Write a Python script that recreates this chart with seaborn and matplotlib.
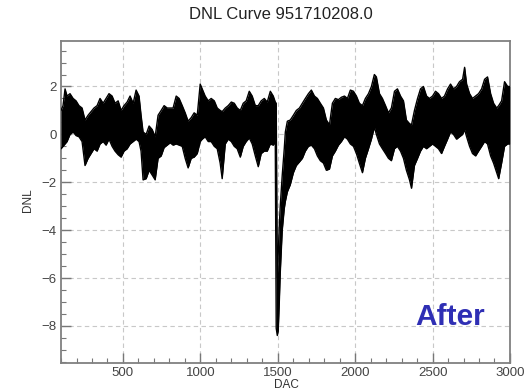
import numpy as np
import pandas as pd
import seaborn as sns
import matplotlib
matplotlib.use('Agg')
import matplotlib.pyplot as plt
from matplotlib.ticker import MultipleLocator

# Envelope of the DNL band: DAC code, upper and lower DNL
dac = [100, 113, 126, 139, 158, 178, 197, 216, 236, 255, 275, 294, 313, 333, 352,
       372, 391, 410, 430, 449, 469, 488, 507, 527, 546, 566, 585, 604, 617, 630,
       650, 669, 689, 708, 727, 747, 766, 786, 805, 824, 844, 863, 883, 902, 921,
       941, 960, 980, 999, 1012, 1031, 1051, 1070, 1090, 1109, 1128, 1141, 1161, 1180, 1200,
       1219, 1238, 1258, 1277, 1296, 1316, 1335, 1355, 1374, 1393, 1413, 1432, 1452, 1471, 1484,
       1490, 1497, 1503, 1510, 1516, 1523, 1529, 1536, 1542, 1549, 1562, 1581, 1601, 1620, 1640,
       1659, 1678, 1698, 1717, 1737, 1756, 1775, 1795, 1814, 1834, 1853, 1872, 1892, 1911, 1931,
       1950, 1969, 1989, 2008, 2027, 2047, 2066, 2086, 2105, 2124, 2137, 2157, 2176, 2196, 2215,
       2234, 2254, 2273, 2293, 2312, 2331, 2351, 2364, 2383, 2403, 2422, 2441, 2461, 2480, 2500,
       2519, 2538, 2558, 2577, 2597, 2616, 2635, 2655, 2674, 2694, 2707, 2720, 2739, 2758, 2778,
       2797, 2817, 2836, 2855, 2875, 2894, 2914, 2927, 2946, 2965, 2985, 2998]
dnl_hi = [1.0, 1.2, 1.9, 1.6, 1.7, 1.5, 1.4, 1.2, 1.1, 0.6, 0.8, 0.95, 1.1, 1.2, 1.5,
          1.3, 1.5, 1.7, 1.6, 1.3, 1.4, 1.0, 1.2, 1.35, 1.6, 1.3, 1.85, 1.6, 0.8, 0.1,
          0.0, 0.35, 0.2, -0.1, 0.8, 1.0, 1.2, 1.1, 1.1, 1.1, 1.6, 1.5, 1.2, 0.9, 0.55,
          0.7, 0.9, 0.8, 2.1, 1.9, 1.6, 1.4, 1.5, 1.4, 1.1, 1.0, 0.95, 1.1, 1.2, 1.35,
          1.3, 1.1, 1.0, 1.3, 1.4, 1.8, 1.6, 1.2, 1.2, 1.4, 1.5, 1.35, 1.8, 1.6, 1.35,
          1.3, -6.0, -5.0, -3.8, -3.0, -2.3, -1.7, -1.1, -0.6, 0.1, 0.55, 0.6, 0.8, 1.0, 1.1,
          1.3, 1.5, 1.7, 1.85, 1.6, 1.5, 1.3, 1.1, 0.6, 0.4, 1.3, 1.5, 1.45, 1.55, 1.6,
          1.5, 1.85, 1.8, 1.6, 1.3, 1.2, 1.5, 1.7, 2.0, 2.5, 2.4, 1.7, 1.5, 1.2, 0.9,
          1.1, 1.8, 1.9, 1.6, 1.4, 0.6, 0.45, 0.4, 1.0, 1.5, 1.9, 2.0, 1.6, 1.5, 1.6,
          1.8, 1.7, 1.5, 1.6, 1.9, 2.1, 1.9, 2.0, 2.2, 2.3, 2.8, 2.1, 1.7, 1.5, 1.6,
          1.7, 1.9, 2.3, 2.4, 1.7, 1.3, 1.1, 1.2, 1.4, 2.2, 2.0, 2.0]
dnl_lo = [-0.6, -0.5, -0.4, -0.3, 0.0, 0.1, -0.05, -0.1, -0.3, -1.3, -1.0, -0.8, -0.6, -0.7, -0.4,
          -0.3, -0.45, -0.2, -0.5, -0.7, -0.85, -0.95, -0.7, -0.6, -0.4, -0.3, -0.2, -0.3, -0.7, -1.9,
          -1.85, -1.5, -1.7, -1.9, -1.0, -0.9, -0.55, -0.45, -0.35, -0.45, -0.4, -0.45, -0.5, -1.0, -1.4,
          -1.0, -0.95, -0.8, -0.3, -0.2, -0.1, -0.3, -0.3, -0.5, -0.6, -1.2, -1.85, -0.4, -0.2, -0.3,
          -0.5, -0.6, -0.95, -0.5, -0.3, -0.15, -0.4, -0.9, -1.35, -0.8, -0.7, -0.7, -0.4, -0.45, -0.3,
          -8.1, -8.4, -8.2, -7.0, -5.8, -4.8, -4.0, -3.5, -3.1, -2.8, -2.4, -2.1, -1.6, -1.3, -1.15,
          -1.0, -0.7, -0.5, -0.45, -0.6, -0.9, -1.1, -1.2, -1.5, -1.45, -0.9, -0.7, -0.45, -0.3, -0.1,
          -0.2, -0.4, -0.5, -0.8, -1.2, -1.6, -1.0, -0.6, -0.2, 0.3, 0.0, -0.4, -0.6, -0.8, -1.0,
          -1.1, -0.6, -0.5, -0.7, -1.0, -1.5, -1.9, -2.25, -1.3, -1.0, -0.7, -0.5, -0.6, -0.5, -0.4,
          -0.5, -0.6, -0.8, -0.5, -0.2, 0.1, 0.0, -0.2, -0.1, 0.0, 0.2, -0.1, -0.5, -0.8, -0.9,
          -0.7, -0.5, -0.3, -0.4, -0.9, -1.2, -1.6, -1.85, -1.2, -0.5, -0.4, -0.4]

sns.set_style('white')
plt.rcParams['font.family'] = ['Liberation Sans', 'DejaVu Sans']

fig = plt.figure(figsize=(5.32, 3.92), dpi=100)
ax = fig.add_axes([0.1147, 0.074, 0.8439, 0.8214])

df = pd.DataFrame({'DAC': dac, 'hi': dnl_hi, 'lo': dnl_lo})
ax.fill_between(df['DAC'], df['lo'], df['hi'], color='black', lw=0, zorder=3)
edges = df.melt(id_vars='DAC', value_vars=['hi', 'lo'], var_name='edge', value_name='DNL')
sns.lineplot(data=edges, x='DAC', y='DNL', units='edge', estimator=None,
             color='black', lw=1.0, ax=ax, zorder=3)

# ROOT-like axes: inward ticks on bottom/left only, dashed major grid
ax.set_xlim(100, 3000)
ax.set_ylim(-9.55, 3.9)
ax.xaxis.set_major_locator(MultipleLocator(500))
ax.xaxis.set_minor_locator(MultipleLocator(100))
ax.yaxis.set_major_locator(MultipleLocator(2))
ax.yaxis.set_minor_locator(MultipleLocator(0.5))
ax.tick_params(which='both', direction='in', bottom=True, left=True, top=False, right=False,
               colors='#777777', labelcolor='#444444', labelsize=9.5, pad=3)
ax.tick_params(which='major', length=7, width=1.0)
ax.tick_params(which='minor', length=3.5, width=0.8)
ax.grid(True, which='major', ls=(0, (4, 3)), color='#c8c8c8', lw=0.8)
for s in ax.spines.values():
    s.set_color('#808080')
    s.set_linewidth(1.3)
ax.set_xlabel('')
ax.set_ylabel('')

fig.text(0.528, 0.964, 'DNL Curve 951710208.0', fontsize=12, ha='center', va='center', color='#222222')
fig.text(0.5376, 0.018, 'DAC', fontsize=8.5, ha='center', va='center', color='#333333')
fig.text(0.0517, 0.49, 'DNL', fontsize=8.5, ha='center', va='center', rotation=90, color='#333333')
ax.text(2613, -7.96, 'After', fontsize=21.5, fontweight='bold', color='#2f2fb4',
        ha='center', va='baseline', zorder=4)

fig.savefig('out.png', dpi=100)
